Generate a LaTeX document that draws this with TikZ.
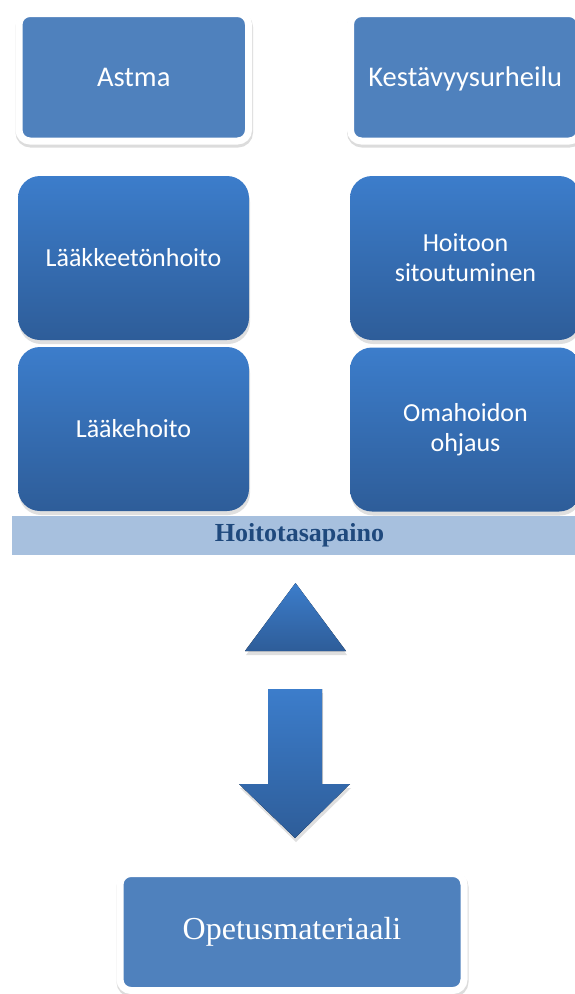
\documentclass[tikz,border=0pt]{standalone}
\usepackage{fontspec}
\setmainfont{Liberation Serif}
\setsansfont{Carlito}
\usetikzlibrary{shadows}

\definecolor{boxblue}{HTML}{4F81BD}
\definecolor{gradtop}{HTML}{3C7DCB}
\definecolor{gradbot}{HTML}{2E5D99}
\definecolor{barblue}{HTML}{A7C0DE}
\definecolor{bartext}{HTML}{1F497D}

\begin{document}
\begin{tikzpicture}[x=1pt, y=-1pt,
  framebox/.style={draw=white, line width=7pt, fill=boxblue, rounded corners=11pt,
    inner sep=0pt, outer sep=0pt, text=white,
    drop shadow={shadow xshift=0.5pt, shadow yshift=-2.5pt, opacity=0.3,
      draw=black!45, line width=8pt}},
  gradbox/.style={top color=gradtop, bottom color=gradbot, rounded corners=22pt,
    minimum width=231pt, minimum height=164pt, inner sep=0pt, outer sep=0pt,
    text=white, align=center, font=\sffamily\fontsize{26}{30}\selectfont,
    drop shadow={shadow xshift=1pt, shadow yshift=-4pt, opacity=0.25}},
  gradshape/.style={top color=gradtop, bottom color=gradbot,
    drop shadow={shadow xshift=1pt, shadow yshift=-4pt, opacity=0.25}}]
  \useasboundingbox (0,0) rectangle (575,994);
  \clip (0,0) rectangle (575,994);

  % Top boxes
  \node[framebox, minimum width=229.5pt, minimum height=127.5pt, text height=18.4pt, text depth=0pt,
    font=\sffamily\fontsize{28.5}{34}\selectfont] (astma) at (133.75,77.25) {Astma};
  \node[framebox, minimum width=229.5pt, minimum height=127.5pt, text height=18.4pt, text depth=0pt,
    font=\sffamily\fontsize{28.5}{34}\selectfont] (urheilu) at (465.25,77.25) {Kestävyysurheilu};

  % Gradient boxes
  \node[gradbox] (laakkeeton) at (133.5,258) {Lääkkeetönhoito};
  \node[gradbox] (laakehoito) at (133.5,429) {Lääkehoito};
  \node[gradbox] (sitoutuminen) at (465.5,258) {Hoitoon\\sitoutuminen};
  \node[gradbox] (omahoito) at (465.5,429.5) {Omahoidon\\ohjaus};

  % Balance bar
  \node[fill=barblue, minimum width=575pt, minimum height=39pt, inner sep=0pt,
    text=bartext, font=\bfseries\fontsize{26}{30}\selectfont] (tasapaino) at (299.5,535.5) {Hoitotasapaino};

  % Triangle
  \fill[gradshape] (295.5,583) -- (346,651) -- (245,651) -- cycle;

  % Down arrow
  \fill[gradshape] (268,689) -- (322,689) -- (322,784) -- (350,784) -- (295,838)
    -- (239,784) -- (268,784) -- cycle;

  % Bottom box
  \node[framebox, minimum width=344pt, minimum height=117pt,
    font=\fontsize{32}{38}\selectfont] (materiaali) at (292,932) {Opetusmateriaali};
\end{tikzpicture}
\end{document}
